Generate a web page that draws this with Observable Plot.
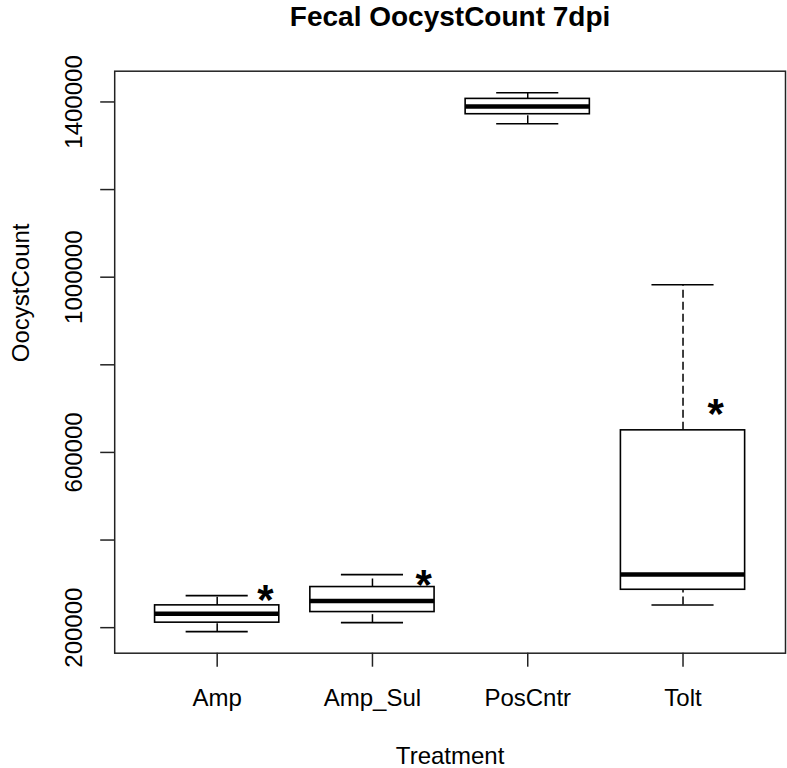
<!DOCTYPE html>
<html>
<head>
<meta charset="utf-8">
<script src="https://cdn.jsdelivr.net/npm/d3@7"></script>
<script src="https://cdn.jsdelivr.net/npm/@observablehq/plot@0.6"></script>
<style>
  html, body { margin: 0; padding: 0; background: #fff; }
  #chart svg { display: block; }
</style>
</head>
<body>
<div id="chart"></div>
<script>
// ---- data ----
const categories = ["Amp", "Amp_Sul", "PosCntr", "Tolt"];
const whiskerLow  = [190900, 211400, 1350200, 251600];
const quartile1   = [211400, 235600, 1372000, 286500];
const medians     = [232000, 260700, 1389500, 321500];
const quartile3   = [250900, 292700, 1407000, 650400];
const whiskerHigh = [273100, 321000, 1421000, 982900];

const starX = [1.31, 2.33, 4.21];
const starY = [278300, 312600, 702700];

const yTicks = [200000, 400000, 600000, 800000, 1000000, 1200000, 1400000];
const yLabels = [200000, 600000, 1000000, 1400000];

const titleText = "Fecal OocystCount 7dpi";
const xTitle = "Treatment";
const yTitle = "OocystCount";

// ---- derived table ----
const boxes = categories.map((c, i) => ({
  pos: i + 1, cat: c,
  lo: whiskerLow[i], q1: quartile1[i], med: medians[i], q3: quartile3[i], hi: whiskerHigh[i]
}));
const stars = starX.map((x, i) => ({x, y: starY[i]}));

// R-style 4% axis extension
const yMin = d3.min(whiskerLow), yMax = d3.max(whiskerHigh);
const ext = (yMax - yMin) * 0.04;
const half = 0.4, cap = 0.2;
const font = "'Liberation Sans', Arial, Helvetica, sans-serif";
const fs = 24;

const chart = Plot.plot({
  width: 787,
  height: 768,
  marginTop: 70.7,
  marginBottom: 115.3,
  marginLeft: 114.2,
  marginRight: 2,
  style: {fontFamily: font, fontSize: fs + "px", color: "#000", background: "#fff"},
  x: {type: "linear", domain: [0.34, 4.66]},
  y: {type: "linear", domain: [yMin - ext, yMax + ext]},
  marks: [
    // whiskers (dashed)
    Plot.ruleX(boxes, {x: "pos", y1: "q3", y2: "hi", stroke: "#000", strokeWidth: 1.5, strokeDasharray: "8,4"}),
    Plot.ruleX(boxes, {x: "pos", y1: "lo", y2: "q1", stroke: "#000", strokeWidth: 1.5, strokeDasharray: "8,4"}),
    // staples
    Plot.ruleY(boxes, {y: "hi", x1: d => d.pos - cap, x2: d => d.pos + cap, stroke: "#000", strokeWidth: 1.6}),
    Plot.ruleY(boxes, {y: "lo", x1: d => d.pos - cap, x2: d => d.pos + cap, stroke: "#000", strokeWidth: 1.6}),
    // boxes
    Plot.rect(boxes, {x1: d => d.pos - half, x2: d => d.pos + half, y1: "q1", y2: "q3", fill: "#fff", stroke: "#000", strokeWidth: 1.6}),
    // medians
    Plot.ruleY(boxes, {y: "med", x1: d => d.pos - half, x2: d => d.pos + half, stroke: "#000", strokeWidth: 4.5}),
    // asterisks
    Plot.text(stars, {x: "x", y: "y", text: () => "*", fontSize: 42, fontWeight: "bold", fill: "#000", lineAnchor: "middle", dy: 7}),
    // frame
    Plot.frame({stroke: "#222", strokeWidth: 1.5}),
    // y axis ticks
    Plot.axisY({ticks: yTicks, tickSize: 14, tickFormat: () => "", stroke: "#222", strokeWidth: 1.5, label: null}),
    // y tick labels (rotated, R style)
    Plot.text(yLabels, {y: d => d, text: d => String(d), frameAnchor: "left", rotate: -90, dx: -32.5,
      textAnchor: "middle", lineAnchor: "bottom", fontSize: fs, fill: "#000"}),
    // x axis
    Plot.axisX({ticks: [1, 2, 3, 4], tickFormat: d => categories[d - 1], tickSize: 14, tickPadding: 22,
      stroke: "#222", strokeWidth: 1.5, fontSize: fs, fill: "#000", label: null}),
    // axis titles
    Plot.text([xTitle], {text: d => d, frameAnchor: "bottom", dy: 111, lineAnchor: "bottom", fontSize: fs, fill: "#000"}),
    Plot.text([yTitle], {text: d => d, frameAnchor: "left", dx: -93, rotate: -90, lineAnchor: "middle", fontSize: fs, fill: "#000"}),
    // main title
    Plot.text([titleText], {text: d => d, frameAnchor: "top", dy: -44.7, lineAnchor: "bottom", fontSize: 28, fontWeight: "bold", fill: "#000"})
  ]
});
document.getElementById("chart").appendChild(chart);
</script>
</body>
</html>
